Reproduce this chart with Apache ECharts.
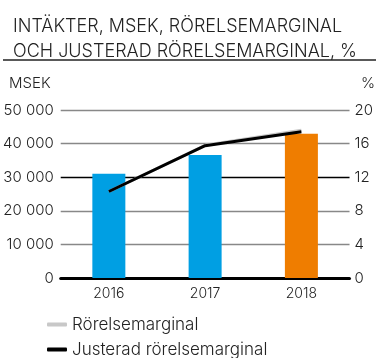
<!DOCTYPE html>
<html>
<head>
<meta charset="utf-8">
<script src="https://cdn.jsdelivr.net/npm/echarts@6/dist/echarts.min.js"></script>
<style>
  html, body { margin: 0; padding: 0; background: #fff; }
  #chart { width: 376px; height: 358px; }
</style>
</head>
<body>
<div id="chart"></div>
<script>
// Revenue (MSEK) per year with operating margin and adjusted operating margin (%)
const years = ['2016', '2017', '2018'];
const revenue = [31000, 36600, 42900];
const operatingMargin = [10.3, 15.8, 17.6];
const adjustedMargin = [10.3, 15.75, 17.4];
const barColors = ['#009FE3', '#009FE3', '#EF7D00'];

const FONT = 'Inter, "Noto Sans", sans-serif';
const TEXT = '#222';

const chart = echarts.init(document.getElementById('chart'), null, { renderer: 'canvas' });

const fmtThousands = v => String(v).replace(/\B(?=(\d{3})+(?!\d))/g, ' ');

const legendBase = {
  left: 47,
  itemWidth: 20, itemHeight: 4,
  icon: 'roundRect',
  padding: 0,
  textStyle: { fontFamily: FONT, fontSize: 17, fontWeight: 300, color: TEXT }
};

chart.setOption({
  animation: false,
  textStyle: { fontFamily: FONT },
  title: {
    text: 'INTÄKTER, MSEK, RÖRELSEMARGINAL\nOCH JUSTERAD RÖRELSEMARGINAL, %',
    left: 8, top: 9,
    textStyle: { fontFamily: FONT, fontSize: 18, fontWeight: 300, color: TEXT, lineHeight: 25 }
  },
  graphic: [
    { type: 'line', shape: { x1: 3, y1: 60, x2: 376, y2: 60 }, style: { stroke: '#222', lineWidth: 1.5 } },
    { type: 'text', left: 9, top: 76, style: { text: 'MSEK', font: '300 15px ' + FONT, fill: TEXT } },
    { type: 'text', left: 361, top: 76, style: { text: '%', font: '300 15px ' + FONT, fill: TEXT } }
  ],
  legend: [
    Object.assign({}, legendBase, { top: 316, data: ['Rörelsemarginal'] }),
    Object.assign({}, legendBase, { top: 341, data: ['Justerad rörelsemarginal'] })
  ],
  grid: { left: 60, right: 19, top: 110, bottom: 80, containLabel: false },
  xAxis: {
    type: 'category',
    data: years,
    axisLine: { show: true, lineStyle: { color: '#000', width: 3 } },
    axisTick: { show: false },
    axisLabel: { color: TEXT, fontSize: 14, fontWeight: 300, margin: 9, fontFamily: FONT }
  },
  yAxis: [
    {
      type: 'value', min: 0, max: 50000, interval: 10000,
      axisLine: { show: false }, axisTick: { show: false },
      axisLabel: { color: TEXT, fontSize: 15, fontWeight: 300, margin: 7, fontFamily: FONT, formatter: fmtThousands },
      splitLine: { show: true, lineStyle: { color: ['#888', '#888', '#888', '#000', '#888', '#888'], width: 1.3 } }
    },
    {
      type: 'value', min: 0, max: 20, interval: 4, position: 'right',
      axisLine: { show: false }, axisTick: { show: false },
      axisLabel: { color: TEXT, fontSize: 15, fontWeight: 300, margin: 5, fontFamily: FONT },
      splitLine: { show: false }
    }
  ],
  series: [
    {
      name: 'Intäkter',
      type: 'bar',
      yAxisIndex: 0,
      barWidth: 33,
      data: revenue.map((v, i) => ({ value: v, itemStyle: { color: barColors[i] } }))
    },
    {
      name: 'Rörelsemarginal',
      type: 'line',
      yAxisIndex: 1,
      data: operatingMargin,
      symbol: 'none',
      itemStyle: { color: '#c8c8c8' },
      lineStyle: { color: '#c8c8c8', width: 3 }
    },
    {
      name: 'Justerad rörelsemarginal',
      type: 'line',
      yAxisIndex: 1,
      data: adjustedMargin,
      symbol: 'none',
      itemStyle: { color: '#000' },
      lineStyle: { color: '#000', width: 3 }
    }
  ]
});
</script>
</body>
</html>
